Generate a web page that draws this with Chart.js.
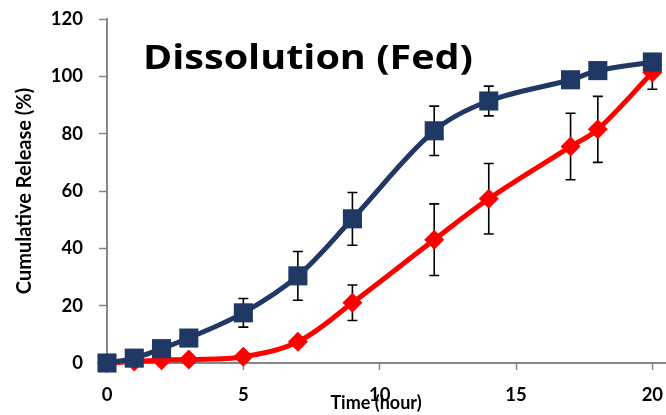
<!DOCTYPE html>
<html>
<head>
<meta charset="utf-8">
<script src="https://cdn.jsdelivr.net/npm/chart.js@4"></script>
<style>
  html, body { margin: 0; padding: 0; background: #fff; }
  #wrap { width: 666px; height: 415px; }
</style>
</head>
<body>
<div id="wrap"><canvas id="c"></canvas></div>
<script>
const times = [0, 1, 2, 3, 5, 7, 9, 12, 14, 17, 18, 20];
const fedA = [0, 1.7, 5, 8.7, 17.5, 30.4, 50.3, 81, 91.4, 98.8, 102, 105];
const fedAErr = [0, 0, 0, 0, 5, 8.5, 9.2, 8.6, 5.2, 2, 2, 2];
const fedB = [0, 0.5, 1, 1.2, 2.2, 7.4, 21, 43, 57.3, 75.5, 81.5, 101.3];
const fedBErr = [0, 0, 0, 0, 0, 1, 6.2, 12.5, 12.3, 11.6, 11.5, 5.8];
const xTicks = [0, 5, 10, 15, 20];
const yTicks = [0, 20, 40, 60, 80, 100, 120];

const navy = '#1F3864';
const red = '#FF0000';
const axisGray = '#868686';
const fontFam = 'Lato, "Open Sans", sans-serif';

function pts(ys) {
  return times.map((t, i) => ({ x: t, y: ys[i] }));
}

// error bars drawn under the markers
const errorBars = {
  id: 'errorBars',
  beforeDatasetsDraw(chart) {
    const ctx = chart.ctx;
    const xs = chart.scales.x, ys = chart.scales.y;
    const sets = [[fedA, fedAErr], [fedB, fedBErr]];
    ctx.save();
    ctx.strokeStyle = '#000';
    ctx.lineWidth = 1.6;
    sets.forEach(([vals, errs]) => {
      vals.forEach((v, i) => {
        if (!errs[i]) return;
        const px = xs.getPixelForValue(times[i]);
        const top = ys.getPixelForValue(v + errs[i]);
        const bot = ys.getPixelForValue(v - errs[i]);
        ctx.beginPath();
        ctx.moveTo(px, top); ctx.lineTo(px, bot);
        ctx.moveTo(px - 5, top); ctx.lineTo(px + 5, top);
        ctx.moveTo(px - 5, bot); ctx.lineTo(px + 5, bot);
        ctx.stroke();
      });
    });
    ctx.restore();
  }
};

// in-plot title and x axis title
const labels = {
  id: 'labels',
  afterDraw(chart) {
    const ctx = chart.ctx;
    ctx.save();
    ctx.fillStyle = '#000';
    ctx.font = 'bold 34px "Open Sans", Lato, sans-serif';
    ctx.textBaseline = 'alphabetic';
    ctx.textAlign = 'left';
    const t = 'Dissolution (Fed)';
    const sx = 330 / ctx.measureText(t).width;
    ctx.translate(143, 69);
    ctx.scale(sx, 1);
    ctx.fillText(t, 0, 0);
    ctx.setTransform(1, 0, 0, 1, 0, 0);
    ctx.font = 'bold 18px ' + fontFam;
    ctx.textAlign = 'center';
    ctx.textBaseline = 'middle';
    ctx.fillText('Time (hour)', 376, 403);
    ctx.restore();
  }
};

new Chart(document.getElementById('c'), {
  type: 'line',
  data: {
    datasets: [
      {
        label: 'A',
        data: pts(fedA),
        borderColor: navy,
        backgroundColor: navy,
        borderWidth: 5,
        tension: 0.35,
        pointStyle: 'rect',
        pointRadius: 13.5,
        pointBorderWidth: 0,
        clip: false
      },
      {
        label: 'B',
        data: pts(fedB),
        borderColor: red,
        backgroundColor: red,
        borderWidth: 5,
        tension: 0.35,
        pointStyle: 'rectRot',
        pointRadius: 10,
        pointBorderWidth: 0,
        clip: false
      }
    ]
  },
  options: {
    responsive: true,
    maintainAspectRatio: false,
    animation: false,
    layout: { autoPadding: false, padding: { top: 19, right: 0, left: 0, bottom: 0 } },
    plugins: {
      legend: { display: false },
      tooltip: { enabled: false }
    },
    scales: {
      x: {
        type: 'linear',
        min: 0,
        max: 20.5,
        afterBuildTicks: s => { s.ticks = xTicks.map(v => ({ value: v })); },
        afterFit: s => { s.height = 52; s.paddingLeft = 0; s.paddingRight = 0; },
        grid: { drawOnChartArea: false, color: axisGray, tickLength: 7, tickWidth: 1.5 },
        border: { color: axisGray, width: 2 },
        ticks: {
          color: '#000',
          padding: 14,
          maxRotation: 0,
          font: { family: fontFam, size: 18.5, weight: 'bold' }
        }
      },
      y: {
        min: 0,
        max: 120,
        afterBuildTicks: s => { s.ticks = yTicks.map(v => ({ value: v })); },
        afterFit: s => { s.width = 107; s.paddingTop = 0; s.paddingBottom = 0; },
        grid: { drawOnChartArea: false, color: axisGray, tickLength: 8, tickWidth: 1.5 },
        border: { color: axisGray, width: 2 },
        ticks: {
          color: '#000',
          padding: 16,
          font: { family: fontFam, size: 18.5, weight: 'bold' }
        },
        title: {
          display: true,
          text: 'Cumulative Release (%)',
          color: '#000',
          padding: { top: 13, bottom: 0 },
          font: { family: fontFam, size: 20, weight: 'bold' }
        }
      }
    }
  },
  plugins: [errorBars, labels]
});
</script>
</body>
</html>
